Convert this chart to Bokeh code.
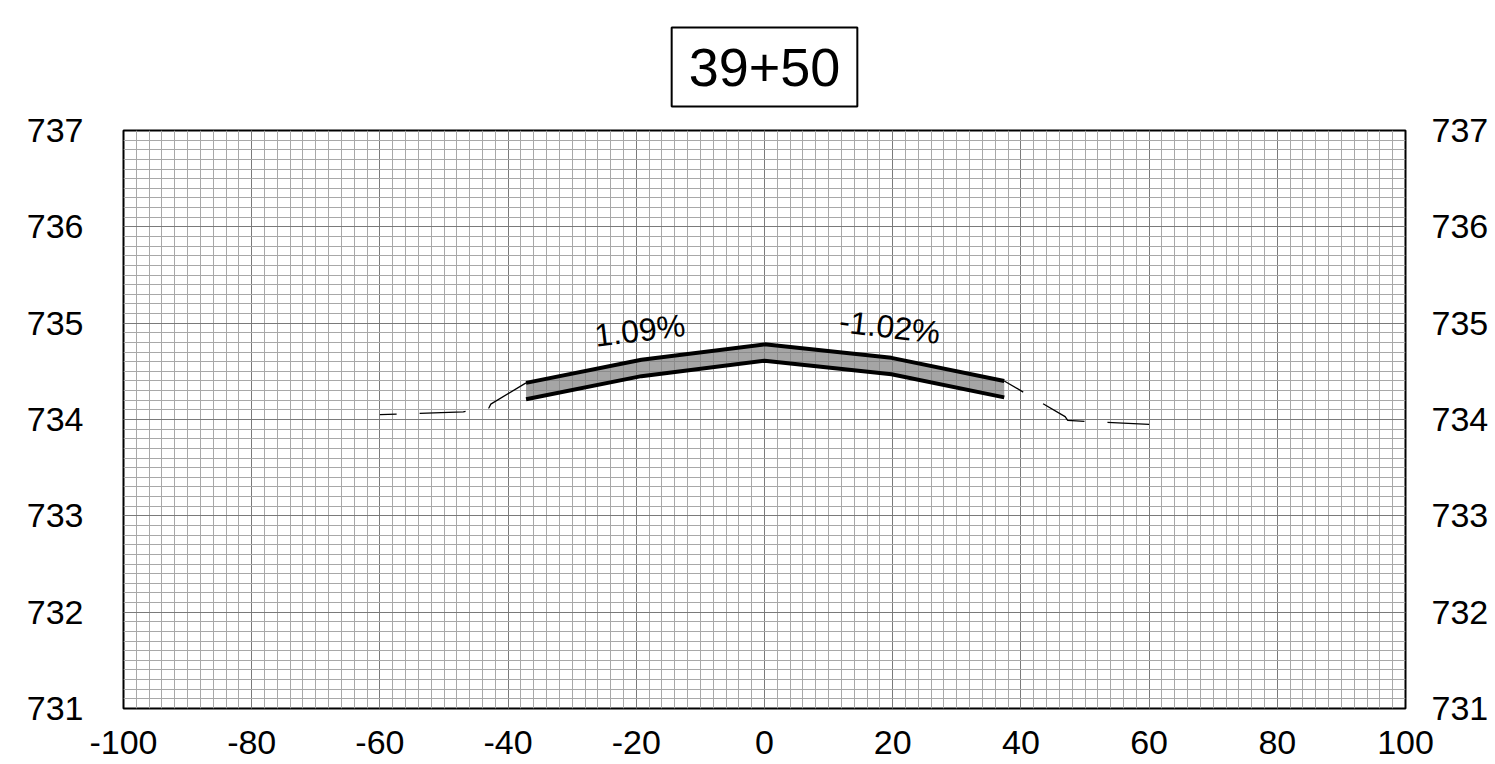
from bokeh.plotting import figure
from bokeh.models import LinearAxis, SingleIntervalTicker, Range1d
from bokeh.core.properties import value
from bokeh.embed import file_html
from bokeh.resources import INLINE

# ---- data ----
station = "39+50"
x_tick_values = [-100, -80, -60, -40, -20, 0, 20, 40, 60, 80, 100]
x_tick_labels = ["-100", "-80", "-60", "-40", "-20", "0", "20", "40", "60", "80", "100"]
y_tick_values = [731, 732, 733, 734, 735, 736, 737]
y_tick_labels = ["731", "732", "733", "734", "735", "736", "737"]

# pavement (template) top and bottom surfaces
pave_x = [-37.2, -19.2, 0.0, 19.8, 37.4]
pave_top_y = [734.38, 734.62, 734.78, 734.64, 734.40]
pave_bot_y = [734.21, 734.45, 734.61, 734.47, 734.23]

# existing ground, listed from pavement edge outward
ground_left_x = [-37.2, -42.7, -43.0, -47.0, -60.0]
ground_left_y = [734.38, 734.16, 734.12, 734.08, 734.05]
ground_right_x = [37.4, 46.9, 47.3, 50.0, 60.0]
ground_right_y = [734.40, 734.03, 733.99, 733.98, 733.95]

# slope labels
slope_text = ["1.09%", "-1.02%"]
slope_x = [-19.45, 19.55]
slope_y = [734.925, 734.96]
slope_angle = [0.12, -0.12]

FONT = "Liberation Sans"

p = figure(frame_width=1282, frame_height=578,
           x_range=Range1d(x_tick_values[0], x_tick_values[-1]),
           y_range=Range1d(y_tick_values[0], y_tick_values[-1]),
           output_backend="svg", toolbar_location=None,
           min_border_left=123, min_border_right=85,
           min_border_top=130, min_border_bottom=56,
           background_fill_color="white", border_fill_color="white")

xt = SingleIntervalTicker(interval=20, num_minor_ticks=10)
yt = SingleIntervalTicker(interval=1, num_minor_ticks=10)

p.xaxis.ticker = xt
p.yaxis.ticker = yt
right_axis = LinearAxis(ticker=yt)
p.add_layout(right_axis, "right")

p.xaxis.major_label_overrides = dict(zip(x_tick_values, x_tick_labels))
p.yaxis.major_label_overrides = dict(zip(y_tick_values, y_tick_labels))
right_axis.major_label_overrides = dict(zip(y_tick_values, y_tick_labels))

for ax in [p.xaxis[0], p.yaxis[0], right_axis]:
    ax.axis_line_color = None
    ax.major_tick_line_color = None
    ax.minor_tick_line_color = None
    ax.major_tick_out = 0
    ax.major_tick_in = 0
    ax.minor_tick_out = 0
    ax.minor_tick_in = 0
    ax.major_label_text_font = FONT
    ax.major_label_text_font_size = "34px"
    ax.major_label_text_color = "black"

p.xaxis.major_label_standoff = 22
p.yaxis.major_label_standoff = 40
right_axis.major_label_standoff = 26

p.xgrid.ticker = xt
p.ygrid.ticker = yt
for g in [p.xgrid[0], p.ygrid[0]]:
    g.grid_line_color = "#7a7a7a"
    g.grid_line_width = 1
    g.minor_grid_line_color = "#a8a8a8"
    g.minor_grid_line_width = 1

p.outline_line_color = "black"
p.outline_line_width = 2

# pavement fill
p.patch(pave_x + pave_x[::-1], pave_top_y + pave_bot_y[::-1],
        fill_color="#7f7f7f", fill_alpha=0.7, line_color=None)
p.line(pave_x, pave_top_y, line_color="black", line_width=4)
p.line(pave_x, pave_bot_y, line_color="black", line_width=4)

# ground
p.line(ground_left_x, ground_left_y, line_color="black", line_width=1.3,
       line_dash="46 23")
p.line(ground_right_x, ground_right_y, line_color="black", line_width=1.3,
       line_dash="47 23", line_dash_offset=25)

for t, x, y, a in zip(slope_text, slope_x, slope_y, slope_angle):
    p.text(x=[x], y=[y], text=[t], angle=a, text_font=value(FONT),
           text_font_size="32px", text_align="center", text_baseline="middle",
           text_color="black")

p.title.text = station
p.title.align = "center"
p.title.text_font = FONT
p.title.text_font_size = "54px"
p.title.text_font_style = "normal"
p.title.text_color = "black"
p.title.border_line_color = "black"
p.title.border_line_width = 2
p.title.background_fill_color = "white"
p.title.padding = (17, 21)
p.title.standoff = 48

open("out.html", "w").write(file_html(p, INLINE))
